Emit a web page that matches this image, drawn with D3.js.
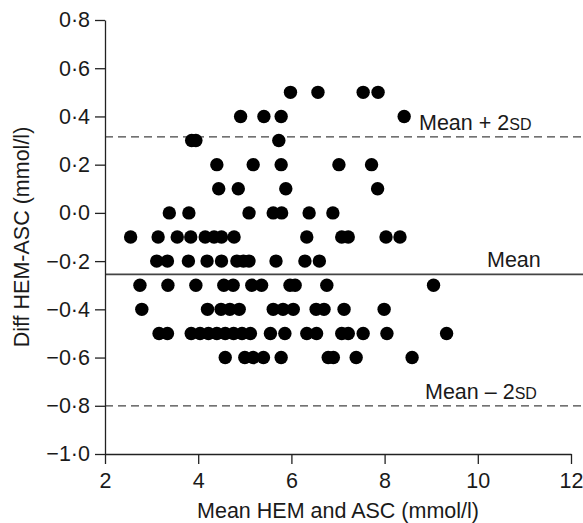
<!DOCTYPE html>
<html>
<head>
    <meta charset="utf-8">
    <title>Bland-Altman HEM vs ASC</title>
    <script src="https://cdn.jsdelivr.net/npm/d3@7"></script>
    <style>
        body { margin: 0; background: #fff; }
        text { font-family: "Liberation Sans", Arial, Helvetica, sans-serif; fill: #1a1a1a; }
    </style>
</head>
<body>
<div id="chartContainer"></div>
<script type="text/javascript">
var diffLevels = [0.5, 0.4, 0.3, 0.2, 0.1, 0.0, -0.1, -0.2, -0.3, -0.4, -0.5, -0.6];
var meansAtLevel = [
    [5.98, 6.57, 7.54, 7.86],
    [4.91, 5.41, 5.78, 8.42],
    [3.86, 3.95, 5.73],
    [4.40, 5.18, 5.78, 7.02, 7.72],
    [4.44, 4.86, 5.88, 7.85],
    [3.38, 3.80, 5.09, 5.61, 5.79, 6.38, 6.89],
    [2.55, 3.14, 3.55, 3.84, 4.15, 4.34, 4.50, 4.77, 6.33, 7.08, 7.22, 8.03, 8.33],
    [3.11, 3.34, 3.79, 4.19, 4.50, 4.83, 4.97, 5.09, 5.67, 6.29, 6.60],
    [2.75, 3.35, 3.95, 4.55, 4.75, 5.15, 5.36, 5.97, 6.08, 6.76, 9.05],
    [2.79, 4.20, 4.49, 4.68, 4.88, 5.61, 5.82, 6.04, 6.53, 6.70, 7.13, 7.99],
    [3.16, 3.34, 3.85, 4.04, 4.22, 4.40, 4.58, 4.76, 4.94, 5.12, 5.55, 5.86, 6.33, 6.54, 7.08, 7.22, 7.54, 8.05, 9.33],
    [4.58, 5.00, 5.18, 5.40, 5.78, 6.79, 6.90, 7.39, 8.59]
];
var xTicks = [2, 4, 6, 8, 10, 12];
var yTicks = [0.8, 0.6, 0.4, 0.2, 0.0, -0.2, -0.4, -0.6, -0.8, -1.0];
var refLines = [
    { name: "upper", value: 0.315, label: "Mean + 2", small: "SD", dashed: true },
    { name: "mean", value: -0.255, label: "Mean", small: "", dashed: false },
    { name: "lower", value: -0.80, label: "Mean \u2013 2", small: "SD", dashed: true }
];

var width = 583, height = 523;
var margin = { top: 20, right: 12, bottom: 69, left: 105 };

var svg = d3.select("#chartContainer").append("svg")
    .attr("width", width)
    .attr("height", height);

var x = d3.scaleLinear().domain([2, 12]).range([margin.left, width - margin.right]);
var y = d3.scaleLinear().domain([-1.0, 0.8]).range([height - margin.bottom, margin.top]);

var points = [];
diffLevels.forEach(function (d, i) {
    meansAtLevel[i].forEach(function (m) { points.push({ mean: m, diff: d }); });
});

// reference lines (run past the last tick to the edge)
svg.selectAll(".ref")
    .data(refLines)
    .enter()
    .append("line")
    .attr("class", "ref")
    .attr("x1", x(2))
    .attr("x2", width)
    .attr("y1", function (d) { return y(d.value); })
    .attr("y2", function (d) { return y(d.value); })
    .style("stroke", "#444")
    .style("stroke-width", function (d) { return d.dashed ? 1.3 : 1.6; })
    .style("stroke-dasharray", function (d) { return d.dashed ? "8,5" : null; });

// axes
var fmt = function (d) { return d3.format(".1f")(d).replace(".", "\u00b7"); };

var yAxis = svg.append("g")
    .attr("transform", "translate(" + margin.left + ",0)")
    .call(d3.axisLeft(y).tickValues(yTicks).tickFormat(fmt).tickSize(10).tickSizeOuter(0).tickPadding(5));

var xAxis = svg.append("g")
    .attr("transform", "translate(0," + (height - margin.bottom) + ")")
    .call(d3.axisBottom(x).tickValues(xTicks).tickFormat(d3.format("d")).tickSize(10).tickSizeOuter(0).tickPadding(9));

[xAxis, yAxis].forEach(function (a) {
    a.selectAll("path, line").style("stroke", "#222").style("stroke-width", 1.3);
    a.selectAll("text").style("font-size", "21.5px").style("fill", "#1a1a1a");
});

// dots
svg.selectAll(".dot")
    .data(points)
    .enter()
    .append("circle")
    .attr("class", "dot")
    .attr("cx", function (d) { return x(d.mean); })
    .attr("cy", function (d) { return y(d.diff); })
    .attr("r", 6.7)
    .style("fill", "#000");

// labels on the reference lines
var labelX = { upper: 419, mean: 487, lower: 425 };
var lbl = svg.selectAll(".refLabel")
    .data(refLines)
    .enter()
    .append("text")
    .attr("class", "refLabel")
    .attr("x", function (d) { return labelX[d.name]; })
    .attr("y", function (d) { return y(d.value) - 7; })
    .style("font-size", "21.5px");
lbl.append("tspan").text(function (d) { return d.label; });
lbl.append("tspan").style("font-size", "16px").text(function (d) { return d.small; });

// axis titles
svg.append("text")
    .attr("x", (x(2) + x(12)) / 2)
    .attr("y", 518)
    .style("text-anchor", "middle")
    .style("font-size", "21.5px")
    .text("Mean HEM and ASC (mmol/l)");

svg.append("text")
    .attr("transform", "translate(29," + (y(-1.0) + y(0.8)) / 2 + ") rotate(-90)")
    .style("text-anchor", "middle")
    .style("font-size", "21.5px")
    .text("Diff HEM-ASC (mmol/l)");
</script>
</body>
</html>
